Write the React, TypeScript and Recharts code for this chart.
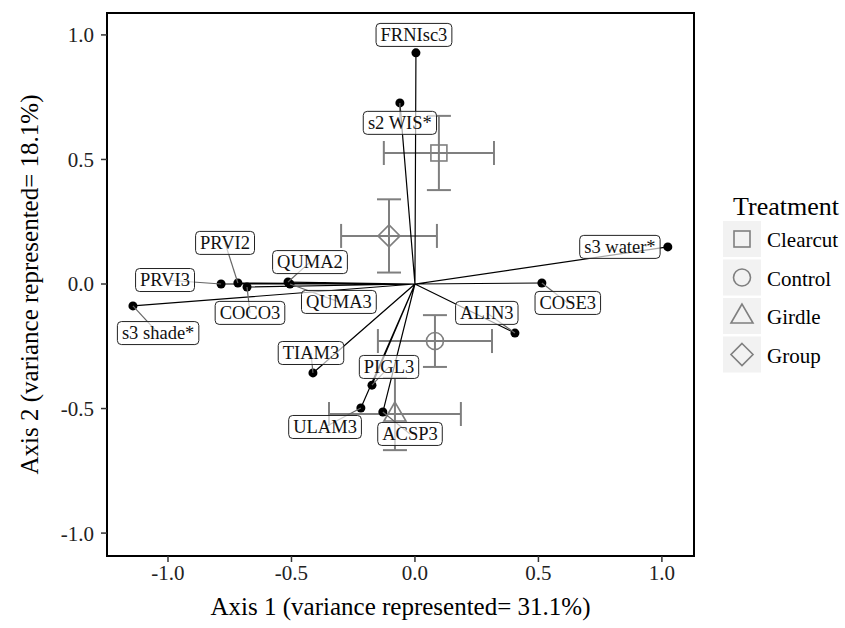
import React from 'react';
import { ScatterChart, Scatter, XAxis, YAxis, ErrorBar, ReferenceArea, Legend, Label } from 'recharts';

// species / environmental vectors (axis 1, axis 2 scores)
const SPECIES = ['FRNIsc3', 's2 WIS*', 's3 water*', 'COSE3', 'ALIN3', 'ACSP3', 'ULAM3', 'PIGL3', 'TIAM3', 'QUMA3', 'QUMA2', 'COCO3', 'PRVI2', 'PRVI3', 's3 shade*'];
const AXIS1 = [0.004, -0.061, 1.024, 0.514, 0.405, -0.13, -0.219, -0.174, -0.413, -0.506, -0.514, -0.68, -0.717, -0.785, -1.142];
const AXIS2 = [0.928, 0.727, 0.149, 0.004, -0.197, -0.514, -0.498, -0.406, -0.357, 0.0, 0.008, -0.012, 0.004, 0.0, -0.088];

// repelled label positions (axis units)
const LABEL1 = [-0.004, -0.061, 0.83, 0.619, 0.291, -0.02, -0.364, -0.105, -0.421, -0.308, -0.425, -0.668, -0.769, -1.012, -1.04];
const LABEL2 = [1.0, 0.647, 0.149, -0.076, -0.116, -0.602, -0.574, -0.333, -0.277, -0.072, 0.088, -0.116, 0.165, 0.016, -0.197];
const NO_SEGMENT = ['FRNIsc3', 's3 water*'];

// treatment centroids with errors
const TREATMENTS = ['Clearcut', 'Control', 'Girdle', 'Group'];
const SHAPES = ['square', 'circle', 'triangle', 'diamond'];
const MEAN1 = [0.097, 0.081, -0.081, -0.105];
const MEAN2 = [0.526, -0.229, -0.522, 0.193];
const ERR1 = [0.223, 0.231, 0.267, 0.194];
const ERR2 = [0.149, 0.104, 0.145, 0.147];

const TICKS = [-1, -0.5, 0, 0.5, 1];
const X_DOMAIN = [-1.247, 1.13];
const Y_DOMAIN = [-1.092, 1.088];

const SERIF = '"Liberation Serif", "Times New Roman", serif';
const GREY = '#7f7f7f';

let ctx: CanvasRenderingContext2D | null = null;
const textWidth = (s: string, size: number) => {
  if (!ctx && typeof document !== 'undefined') ctx = document.createElement('canvas').getContext('2d');
  if (!ctx) return s.length * size * 0.55;
  ctx.font = `${size}px ${SERIF}`;
  return ctx.measureText(s).width;
};

const drawSymbol = (kind: string, cx: number, cy: number, stroke: string) => {
  const common = { fill: 'none', stroke, strokeWidth: 1.6 };
  if (kind === 'square') return <rect x={cx - 8} y={cy - 8} width={16} height={16} {...common} />;
  if (kind === 'circle') return <circle cx={cx} cy={cy} r={8.5} {...common} />;
  if (kind === 'triangle')
    return <polygon points={`${cx},${cy - 12} ${cx - 11},${cy + 7} ${cx + 11},${cy + 7}`} {...common} />;
  return <polygon points={`${cx},${cy - 11} ${cx + 11},${cy} ${cx},${cy + 11} ${cx - 11},${cy}`} {...common} />;
};

const noShape = () => <g />;

const dotShape = (props: any) => <circle cx={props.cx} cy={props.cy} r={4.5} fill="#000" />;

const labelShape = (props: any) => {
  const { cx, cy, payload } = props;
  const w = textWidth(payload.name, 18.5) + 9;
  const h = 23;
  return (
    <g>
      <rect x={cx - w / 2} y={cy - h / 2} width={w} height={h} rx={4} ry={4} fill="#fff" fillOpacity={0.65} stroke="#222" strokeWidth={1} />
      <text x={cx} y={cy + 6} textAnchor="middle" fontSize={18.5} fill="#111" fontFamily={SERIF}>
        {payload.name}
      </text>
    </g>
  );
};

const treatmentShape = (props: any) => drawSymbol(props.payload.shape, props.cx, props.cy, GREY);

const renderLegend = () => (
  <svg width={123} height={200} style={{ fontFamily: SERIF, display: 'block' }}>
    <text x={11} y={29} fontSize={26} fill="#000">Treatment</text>
    {TREATMENTS.map((t, i) => {
      const top = 35 + i * 38.5;
      return (
        <g key={t}>
          <rect x={1} y={top} width={38} height={36} fill="#f2f2f2" />
          {drawSymbol(SHAPES[i], 20, top + 18, GREY)}
          <text x={45} y={top + 26} fontSize={21} fill="#000">{t}</text>
        </g>
      );
    })}
  </svg>
);

const vectorData = SPECIES.flatMap((s, i) => [
  { x: 0, y: 0 },
  { x: AXIS1[i], y: AXIS2[i] },
]);
const pointData = SPECIES.map((s, i) => ({ name: s, x: AXIS1[i], y: AXIS2[i] }));
const labelData = SPECIES.map((s, i) => ({ name: s, x: LABEL1[i], y: LABEL2[i] }));

const fmt = (v: number) => v.toFixed(1);

export default function App() {
  return (
    <div style={{ position: 'absolute', left: 0, top: 0, width: 845, height: 628, background: '#fff' }}>
      <ScatterChart width={845} height={628} margin={{ top: 13, right: 151, bottom: 0, left: 0 }} style={{ fontFamily: SERIF }}>
        <XAxis
          type="number"
          dataKey="x"
          domain={X_DOMAIN}
          ticks={TICKS}
          allowDataOverflow
          height={72}
          tickSize={6}
          tickMargin={3}
          tickFormatter={fmt}
          tick={{ fontSize: 21, fill: '#222' }}
          axisLine={false}
          tickLine={{ stroke: '#333', strokeWidth: 1.5 }}
        >
          <Label value="Axis 1 (variance represented= 31.1%)" position="insideBottom" offset={13} fontSize={25} fill="#000" />
        </XAxis>
        <YAxis
          type="number"
          dataKey="y"
          domain={Y_DOMAIN}
          ticks={TICKS}
          allowDataOverflow
          width={107}
          tickSize={6}
          tickMargin={7}
          tickFormatter={fmt}
          tick={{ fontSize: 21, fill: '#222' }}
          axisLine={false}
          tickLine={{ stroke: '#333', strokeWidth: 1.5 }}
        >
          <Label value="Axis 2 (variance represented= 18.1%)" position="center" angle={-90} dx={-24} fontSize={25} fill="#000" />
        </YAxis>
        <Legend
          layout="horizontal"
          verticalAlign="middle"
          align="center"
          content={renderLegend}
          wrapperStyle={{ left: 722, top: 186, width: 123 }}
        />

        <Scatter data={vectorData} line={{ stroke: '#000', strokeWidth: 1.2 }} shape={noShape} legendType="none" isAnimationActive={false} />
        <Scatter data={pointData} shape={dotShape} legendType="none" isAnimationActive={false} />

        {TREATMENTS.map((t, i) => (
          <Scatter
            key={t}
            name={t}
            data={[{ x: MEAN1[i], y: MEAN2[i], ex: ERR1[i], ey: ERR2[i], shape: SHAPES[i] }]}
            shape={treatmentShape}
            isAnimationActive={false}
          >
            <ErrorBar dataKey="ex" direction="x" width={12} stroke={GREY} strokeWidth={2} />
            <ErrorBar dataKey="ey" direction="y" width={12} stroke={GREY} strokeWidth={2} />
          </Scatter>
        ))}

        {SPECIES.filter((s) => !NO_SEGMENT.includes(s)).map((s) => {
          const i = SPECIES.indexOf(s);
          return (
            <Scatter
              key={'seg-' + s}
              data={[
                { x: LABEL1[i], y: LABEL2[i] },
                { x: AXIS1[i], y: AXIS2[i] },
              ]}
              line={{ stroke: '#666', strokeWidth: 1.2 }}
              shape={noShape}
              legendType="none"
              isAnimationActive={false}
            />
          );
        })}
        <Scatter data={labelData} shape={labelShape} legendType="none" isAnimationActive={false} />

        <ReferenceArea x1={X_DOMAIN[0]} x2={X_DOMAIN[1]} y1={Y_DOMAIN[0]} y2={Y_DOMAIN[1]} fill="none" stroke="#000" strokeWidth={2} />
      </ScatterChart>
    </div>
  );
}
